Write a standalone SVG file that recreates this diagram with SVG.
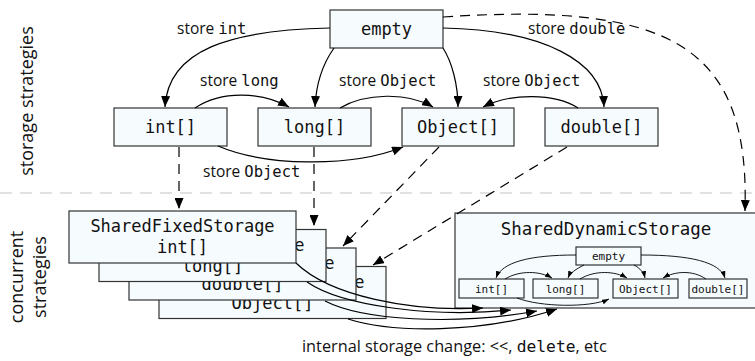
<svg xmlns="http://www.w3.org/2000/svg" width="755" height="361" viewBox="0 0 755 361">
<style>
.box{fill:#f6fcfe;stroke:#333;stroke-width:1.2}
.mono{font-family:"DejaVu Sans Mono","Liberation Mono",monospace;fill:#111}
.sans{font-family:"Open Sans","Noto Sans",sans-serif;fill:#111}
.big{font-size:17px}
.lab{font-size:15.5px}
.bot{font-size:16.3px}
.small{font-size:11px}
.side{font-size:18px}
.c{fill:none;stroke:#000;stroke-width:1.2}
.d{fill:none;stroke:#000;stroke-width:1.2;stroke-dasharray:10 7}
.ci{fill:none;stroke:#000;stroke-width:0.9}
</style>
<defs>
<marker id="ah" viewBox="0 0 11 9" refX="11" refY="4.5" markerWidth="11" markerHeight="9" markerUnits="userSpaceOnUse" orient="auto"><path d="M0,0 L11,4.5 L0,9 z" fill="#000"/></marker>
<marker id="as" viewBox="0 0 7 5" refX="7" refY="2.5" markerWidth="7" markerHeight="5" markerUnits="userSpaceOnUse" orient="auto"><path d="M0,0 L7,2.5 L0,5 z" fill="#000"/></marker>
</defs>
<rect width="755" height="361" fill="#fff"/>
<line x1="0" y1="193" x2="755" y2="193" stroke="#c4c4c4" stroke-width="1.2" stroke-dasharray="12 8"/>
<g id="side-labels">
<text class="sans side" transform="translate(33,101) rotate(-90)" text-anchor="middle">storage strategies</text>
<text class="sans side" transform="translate(23,277) rotate(-90)" text-anchor="middle">concurrent</text>
<text class="sans side" transform="translate(46,277) rotate(-90)" text-anchor="middle">strategies</text>
</g>
<g id="empty"><rect class="box" x="330" y="10" width="113" height="38"/><text class="mono big" x="386.5" y="35" text-anchor="middle">empty</text></g>
<g id="int"><rect class="box" x="114" y="108" width="113" height="38"/><text class="mono big" x="170.5" y="133" text-anchor="middle">int[]</text></g>
<g id="long"><rect class="box" x="258" y="108" width="113" height="38"/><text class="mono big" x="314.5" y="133" text-anchor="middle">long[]</text></g>
<g id="object"><rect class="box" x="402" y="108" width="112" height="38"/><text class="mono big" x="458" y="133" text-anchor="middle">Object[]</text></g>
<g id="double"><rect class="box" x="545" y="108" width="113" height="38"/><text class="mono big" x="601.5" y="133" text-anchor="middle">double[]</text></g>
<g id="fixed-object"><rect class="box" x="159" y="266.5" width="227" height="52"/><text class="mono big" x="272.5" y="287.5" text-anchor="middle">SharedFixedStorage</text><text class="mono big" x="272.5" y="308.5" text-anchor="middle">Object[]</text></g>
<g id="fixed-double"><rect class="box" x="129" y="248" width="227" height="52"/><text class="mono big" x="242.5" y="269" text-anchor="middle">SharedFixedStorage</text><text class="mono big" x="242.5" y="290" text-anchor="middle">double[]</text></g>
<g id="fixed-long"><rect class="box" x="99" y="229.5" width="227" height="52"/><text class="mono big" x="212.5" y="250.5" text-anchor="middle">SharedFixedStorage</text><text class="mono big" x="212.5" y="271.5" text-anchor="middle">long[]</text></g>
<g id="fixed-int"><rect class="box" x="69" y="211" width="227" height="52"/><text class="mono big" x="182.5" y="232" text-anchor="middle">SharedFixedStorage</text><text class="mono big" x="182.5" y="253" text-anchor="middle">int[]</text></g>
<g id="dynamic">
<rect class="box" x="455" y="213" width="320" height="95"/>
<text class="mono" font-size="17.5" x="606" y="235" text-anchor="middle">SharedDynamicStorage</text>
<g id="d-empty"><rect class="box" x="576" y="247" width="65" height="18"/><text class="mono small" x="608.5" y="260" text-anchor="middle">empty</text></g>
<g id="d-int"><rect class="box" x="459" y="279" width="65" height="19"/><text class="mono small" x="491.5" y="292.5" text-anchor="middle">int[]</text></g>
<g id="d-long"><rect class="box" x="533" y="279" width="65" height="19"/><text class="mono small" x="565.5" y="292.5" text-anchor="middle">long[]</text></g>
<g id="d-object"><rect class="box" x="613" y="279" width="65" height="19"/><text class="mono small" x="645.5" y="292.5" text-anchor="middle">Object[]</text></g>
<g id="d-double"><rect class="box" x="689" y="279" width="58" height="19"/><text class="mono small" x="718" y="292.5" text-anchor="middle">double[]</text></g>
</g>
<g id="connectors">
<path class="c" d="M330,28 C230,30 168,50 165,107" marker-end="url(#ah)"/>
<path class="c" d="M334,48 C322,65 316,85 315,107" marker-end="url(#ah)"/>
<path class="c" d="M443,48 C452,62 458,85 458,107" marker-end="url(#ah)"/>
<path class="c" d="M443,28 C545,30 602,62 604,107" marker-end="url(#ah)"/>
<path class="c" d="M195,108 C222,90 262,92 289,107" marker-end="url(#ah)"/>
<path class="c" d="M340,108 C365,93 408,92 433,107" marker-end="url(#ah)"/>
<path class="c" d="M578,108 C555,93 510,93 483,107" marker-end="url(#ah)"/>
<path class="c" d="M218,146 C265,166 350,168 403,147" marker-end="url(#ah)"/>
<path class="d" d="M179,147 L179,209" marker-end="url(#ah)"/>
<path class="d" d="M314,147 L314,226" marker-end="url(#ah)"/>
<path class="d" d="M439,147 L343,246" marker-end="url(#ah)"/>
<path class="d" d="M567,147 L373,265" marker-end="url(#ah)"/>
<path class="d" d="M443,17 C670,2 750,45 745,211" marker-end="url(#ah)"/>
<path class="c" d="M296,263 C330,296 410,312 483,308" marker-end="url(#ah)"/>
<path class="c" d="M307,282 C342,306 432,318 511,310" marker-end="url(#ah)"/>
<path class="c" d="M325,301 C362,320 452,326 537,311" marker-end="url(#ah)"/>
<path class="c" d="M348,319 C392,333 482,334 557,309" marker-end="url(#ah)"/>
<path class="ci" d="M576,255 C530,255 502,262 496,278" marker-end="url(#as)"/>
<path class="ci" d="M584,265 C576,269 570,273 568,278" marker-end="url(#as)"/>
<path class="ci" d="M634,265 C640,268 644,273 645,278" marker-end="url(#as)"/>
<path class="ci" d="M641,255 C690,255 720,262 725,278" marker-end="url(#as)"/>
<path class="ci" d="M505,279 C520,270 540,271 552,278" marker-end="url(#as)"/>
<path class="ci" d="M580,279 C595,270 615,271 627,278" marker-end="url(#as)"/>
<path class="ci" d="M706,279 C693,270 675,271 663,278" marker-end="url(#as)"/>
<path class="ci" d="M517,298 C540,307 590,308 609,299" marker-end="url(#as)"/>
</g>
<g id="labels">
<text class="sans lab" x="177" y="34">store <tspan class="mono">int</tspan></text>
<text class="sans lab" x="528" y="34">store <tspan class="mono">double</tspan></text>
<text class="sans lab" x="200" y="86">store <tspan class="mono">long</tspan></text>
<text class="sans lab" x="339" y="86">store <tspan class="mono">Object</tspan></text>
<text class="sans lab" x="483" y="86">store <tspan class="mono">Object</tspan></text>
<text class="sans lab" x="203" y="177">store <tspan class="mono">Object</tspan></text>
<text class="sans bot" x="302" y="352">internal storage change: &lt;&lt;, <tspan class="mono">delete</tspan>, etc</text>
</g>
</svg>
